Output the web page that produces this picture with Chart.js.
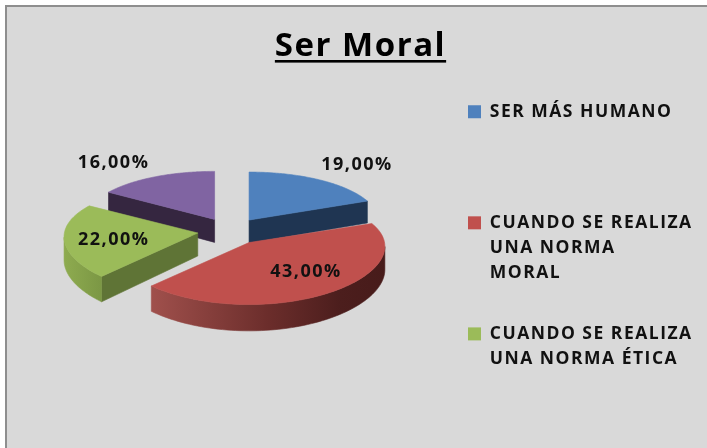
<!DOCTYPE html>
<html><head><meta charset="utf-8">
<style>html,body{margin:0;padding:0;background:#fff}canvas{display:block;filter:blur(0.45px)}</style>
<script src="https://cdn.jsdelivr.net/npm/chart.js@4/dist/chart.umd.min.js"></script>
</head><body><canvas id="c" width="707" height="448"></canvas>
<script>
const chartTitle = 'Ser Moral';
const categories = [
  ['SER MÁS HUMANO', '', ''],
  ['CUANDO SE REALIZA', 'UNA NORMA', 'MORAL'],
  ['CUANDO SE REALIZA', 'UNA NORMA ÉTICA', ''],
  ['']
];
const values = [19, 43, 22, 16];
const topColors = ['#4F81BD', '#C0504D', '#9BBB59', '#8064A2'];
const faceColors = ['#1F3552', '#4A1D1C', '#5F7436', '#352640'];
const labelOffsets = [[108, -55], [57, 29], [-84, 7], [-101, -57]];
const drawOrder = [3, 0, 2, 1];

const view = {x0: 230.5, y0: 231.3, ex: 33, ey: 13.6, a: 133, aSkew: 3, b: 54.1, p: 0.127, px: 0.07, d: 23};

function project(ax, ay, ang, a) {
  const u = Math.sin(ang), t = -Math.cos(ang);
  const w = 1 - view.p * t, wx = 1 - view.px * t;
  return {x: ax + a * u / wx, y: ay + view.b * t / w, d: view.d / w};
}
function poly(ctx, pts, fill) {
  ctx.beginPath();
  pts.forEach((q, i) => i ? ctx.lineTo(q.x, q.y) : ctx.moveTo(q.x, q.y));
  ctx.closePath();
  ctx.fillStyle = fill; ctx.fill();
  ctx.strokeStyle = fill; ctx.lineWidth = 0.6; ctx.stroke();
}
function rimPaint(ctx, i) {
  if (i === 1) {
    const g = ctx.createLinearGradient(151, 0, 387, 0);
    g.addColorStop(0, '#A0504C'); g.addColorStop(0.5, '#6B2D2B'); g.addColorStop(0.8, '#4C1E1D'); g.addColorStop(1, '#471B1A');
    return g;
  }
  if (i === 2) {
    const g = ctx.createLinearGradient(62, 0, 100, 0);
    g.addColorStop(0, '#8FAC50'); g.addColorStop(1, '#7C9845');
    return g;
  }
  return faceColors[i];
}

const pie3d = {
  id: 'pie3d',
  beforeDraw(chart) {
    const ctx = chart.ctx;
    ctx.save();
    ctx.fillStyle = '#fff'; ctx.fillRect(0, 0, 707, 448);
    ctx.fillStyle = '#8E8E8E'; ctx.fillRect(5, 5, 702, 443);
    ctx.fillStyle = '#D9D9D9'; ctx.fillRect(7, 7, 700, 441);
    ctx.restore();
    ctx.letterSpacing = '1.5px';
  },
  afterLayout(chart) {
    const t = chart.titleBlock, l = chart.legend;
    t.left = 14; t.right = 707;
    l.left = 432; l.right = 707; l.top = 67; l.bottom = 448;
  },
  beforeDatasetDraw(chart, args) {
    const ctx = chart.ctx, arcs = chart.getDatasetMeta(args.index).data;
    ctx.save();
    drawOrder.forEach(i => {
      const arc = arcs[i];
      const s = arc.startAngle + Math.PI / 2, e = arc.endAngle + Math.PI / 2, m = (s + e) / 2;
      const ax = view.x0 + view.ex * Math.sin(m), ay = view.y0 - view.ey * Math.cos(m);
      const a = view.a - view.aSkew * Math.cos(m);
      const n = 90, rim = [];
      for (let k = 0; k <= n; k++) rim.push(project(ax, ay, s + (e - s) * k / n, a));
      const apex = {x: ax, y: ay, d: view.d};
      const inner = project(ax, ay, m, a * 0.5);
      const c = {x: (apex.x + inner.x) / 2, y: (apex.y + inner.y) / 2};
      const down = (q) => ({x: q.x, y: q.y + q.d});
      // radial walls: visible only when the slice lies above the edge on screen
      const wall = (p, q) => {
        const dx = q.x - p.x, dy = q.y - p.y;
        const side = dx * (c.y - p.y) - dy * (c.x - p.x);
        if (side * dx < 0) poly(ctx, [p, q, down(q), down(p)], faceColors[i]);
      };
      wall(apex, rim[0]); wall(apex, rim[n]);
      // curved rim as one shape over its front-facing run
      const run = [];
      for (let k = 0; k <= n; k++) {
        const next = rim[Math.min(k + 1, n)], prev = rim[Math.max(k - 1, 0)];
        if (next.x < prev.x) run.push(rim[k]);
      }
      if (run.length > 1) poly(ctx, [...run, ...run.slice().reverse().map(down)], rimPaint(ctx, i));
      poly(ctx, [apex, ...rim], topColors[i]);
      arc.$apex = apex;
    });
    // value labels
    ctx.font = 'bold 18px "Open Sans"'; ctx.textAlign = 'center'; ctx.textBaseline = 'middle';
    ctx.fillStyle = '#111';
    arcs.forEach((arc, i) => {
      const txt = values[i].toFixed(2).replace('.', ',') + '%';
      ctx.fillText(txt, arc.$apex.x + labelOffsets[i][0], arc.$apex.y + labelOffsets[i][1]);
    });
    ctx.restore();
    return false;
  },
  afterDraw(chart) {
    const ctx = chart.ctx;
    ctx.save();
    ctx.font = 'bold 33px "Open Sans"';
    const w = ctx.measureText(chartTitle).width;
    ctx.fillStyle = '#000';
    ctx.fillRect(360.5 - w / 2, 60, w, 2.6);
    ctx.restore();
  }
};

new Chart(document.getElementById('c'), {
  type: 'pie',
  data: {labels: categories, datasets: [{data: values, backgroundColor: topColors, borderWidth: 0}]},
  plugins: [pie3d],
  options: {
    responsive: false, animation: false,
    plugins: {
      tooltip: {enabled: false},
      title: {display: true, text: chartTitle, color: '#000', font: {family: 'Open Sans', size: 33, weight: 'bold'}, padding: {top: 27, bottom: 0}},
      legend: {
        display: true, position: 'right', align: 'start',
        labels: {
          color: '#111', boxWidth: 13, boxHeight: 13, padding: 36,
          font: {family: 'Open Sans', size: 17.5, weight: 'bold', lineHeight: 1.43},
          filter: item => item.index < 3
        }
      }
    }
  }
});
</script></body></html>
